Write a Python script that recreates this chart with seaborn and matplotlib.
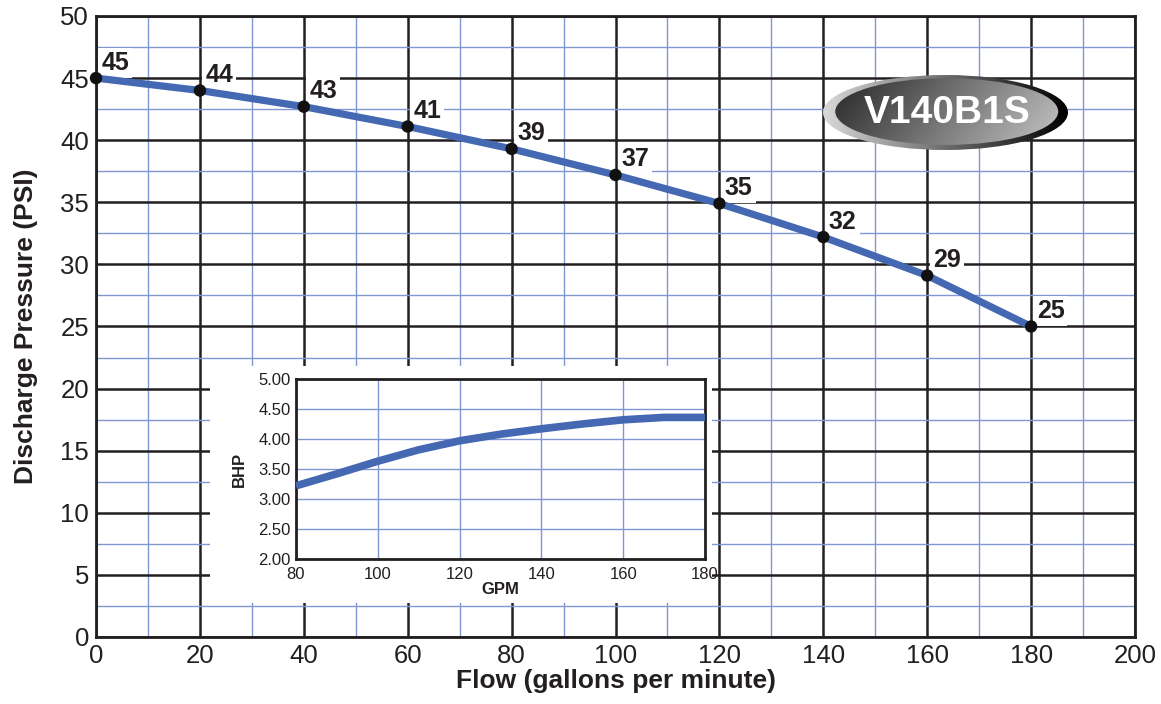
import numpy as np
import pandas as pd
import seaborn as sns
import matplotlib.pyplot as plt
from matplotlib.patches import Ellipse, Rectangle

# pump curve (main chart)
flow = [0, 20, 40, 60, 80, 100, 120, 140, 160, 180]
pressure = [45.0, 44.0, 42.7, 41.1, 39.3, 37.2, 34.9, 32.2, 29.1, 25.0]
pressure_labels = ["45", "44", "43", "41", "39", "37", "35", "32", "29", "25"]

# brake horsepower curve (inset)
gpm = [80, 90, 100, 110, 120, 130, 140, 150, 160, 170, 180]
bhp = [3.22, 3.42, 3.63, 3.82, 3.97, 4.08, 4.17, 4.25, 4.32, 4.36, 4.36]

model = "V140B1S"

BLUE = "#4468b2"
GRID_BLUE = "#8097d3"
INK = "#231f20"

sns.set_style("white")
plt.rcParams["font.family"] = ["Liberation Sans", "DejaVu Sans"]

fig = plt.figure(figsize=(11.61, 7.04), dpi=100)
ax = fig.add_axes([0.0827, 0.0952, 0.8949, 0.8821])

df = pd.DataFrame({"flow": flow, "psi": pressure})
sns.lineplot(data=df, x="flow", y="psi", ax=ax, color=BLUE, lw=5.2,
             zorder=5.5, solid_capstyle="butt")
sns.scatterplot(data=df, x="flow", y="psi", ax=ax, color="#111111", s=80,
                edgecolor="none", zorder=6, clip_on=False)

for x, y, t in zip(flow, pressure, pressure_labels):
    ax.annotate(t, (x, y), xytext=(4, 2.5), textcoords="offset points",
                fontsize=18, fontweight="bold", color=INK, ha="left", va="bottom",
                bbox=dict(boxstyle="square,pad=0.12", fc="white", ec="none"), zorder=5)

ax.set_xlim(0, 200)
ax.set_ylim(0, 50)
ax.set_xticks(range(0, 201, 20))
ax.set_yticks(range(0, 51, 5))
ax.set_xticks(range(10, 200, 20), minor=True)
ax.set_yticks(np.arange(2.5, 50, 5), minor=True)
ax.grid(which="major", color=INK, lw=1.8, zorder=2)
ax.grid(which="minor", color=GRID_BLUE, lw=1.0, zorder=1)
ax.set_axisbelow(True)
ax.tick_params(which="both", length=0, labelsize=18.5, colors=INK, pad=5)
for s in ax.spines.values():
    s.set_linewidth(2)
    s.set_color(INK)
ax.set_xlabel("Flow (gallons per minute)", fontsize=19, fontweight="bold",
              color=INK, labelpad=1)
ax.set_ylabel("Discharge Pressure (PSI)", fontsize=19, fontweight="bold",
              color=INK, labelpad=16)

# white panel under the inset
ax.add_patch(Rectangle((210 / 1161, 1 - 603 / 704), 502 / 1161, 237 / 704,
                       transform=fig.transFigure, fc="white", ec="none",
                       zorder=7, clip_on=False))

ins = fig.add_axes([296 / 1161, 1 - 559 / 704, 409 / 1161, 180 / 704])
ins.set_zorder(3)
di = pd.DataFrame({"gpm": gpm, "bhp": bhp})
sns.lineplot(data=di, x="gpm", y="bhp", ax=ins, color=BLUE, lw=5.5,
             solid_capstyle="butt", zorder=3)
ins.set_xlim(80, 180)
ins.set_ylim(2, 5)
ins.set_xticks(range(80, 181, 20))
ins.set_yticks(np.arange(2, 5.01, 0.5))
ins.set_yticklabels([f"{v:.2f}" for v in np.arange(2, 5.01, 0.5)])
ins.grid(color=GRID_BLUE, lw=1.0)
ins.set_axisbelow(True)
ins.tick_params(axis="y", length=0, labelsize=12, colors=INK, pad=4)
ins.tick_params(axis="x", length=0, labelsize=12, colors=INK, pad=6)
for s in ins.spines.values():
    s.set_linewidth(2)
    s.set_color(INK)
ins.set_xlabel("GPM", fontsize=12, fontweight="bold", color=INK, labelpad=0)
ins.set_ylabel("BHP", fontsize=12, fontweight="bold", color=INK, labelpad=8)

# model badge
lg = fig.add_axes([823 / 1161, 1 - 150 / 704, 245 / 1161, 75 / 704])
lg.set_xlim(0, 1)
lg.set_ylim(0, 1)
lg.axis("off")
grad = np.linspace(0, 1, 256)[None, :]
outer = Ellipse((0.5, 0.5), 1.0, 1.0, transform=lg.transAxes, fc="none", ec="none")
lg.add_patch(outer)
im1 = lg.imshow(0.85 - 0.85 * grad, cmap="gray", vmin=0, vmax=1,
                extent=[0, 1, 0, 1], aspect="auto", zorder=1)
im1.set_clip_path(outer)
inner = Ellipse((0.505, 0.513), 0.91, 0.89, transform=lg.transAxes, fc="none", ec="none")
lg.add_patch(inner)
xx, yy = np.meshgrid(np.linspace(0, 1, 256), np.linspace(0, 1, 64))
im2 = lg.imshow(0.12 + 0.68 * (0.8 * xx + 0.2 * yy), cmap="gray", vmin=0, vmax=1,
                extent=[0, 1, 0, 1], aspect="auto", zorder=2)
im2.set_clip_path(inner)
lg.text(0.505, 0.49, model, ha="center", va="center", fontsize=28,
        fontweight="bold", color="white", zorder=3)

fig.savefig("out.png", dpi=100)
